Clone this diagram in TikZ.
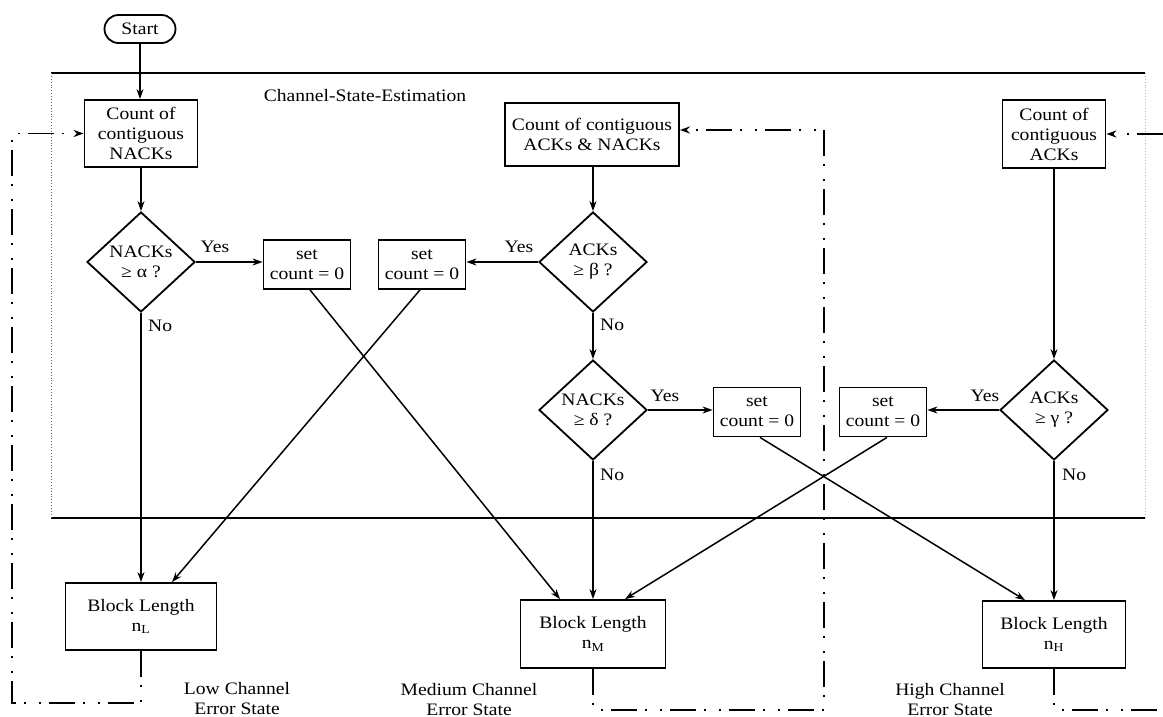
\documentclass[tikz,border=0pt]{standalone}
\usepackage{fontspec}
\setmainfont{Liberation Serif}[FakeStretch=1.12]
\usetikzlibrary{shapes.geometric,arrows.meta}
\begin{document}
\begin{tikzpicture}[x=1pt,y=-1pt,
  every node/.style={font=\fontsize{17.5}{20}\selectfont},
  box/.style={draw,line width=1.8pt,rectangle,inner sep=0pt,align=center},
  dia/.style={draw,line width=1.8pt,diamond,inner sep=0pt,align=center,minimum width=108pt,minimum height=100pt},
  setbox/.style={box,minimum width=87pt,minimum height=49pt},
  blbox/.style={box,minimum height=67pt},
  tip/.style={-{Stealth[length=10pt,width=7pt]}},
  flow/.style={line width=1.5pt,tip},
  fb/.style={line width=1.8pt,dash pattern=on 26pt off 8pt on 2pt off 13pt on 2pt off 8pt},
  lbl/.style={inner sep=0pt,align=center}]
\useasboundingbox (0,0) rectangle (1163,717);

% estimation frame
\draw[line width=1.2pt] (51,73) -- (1145,73);
\draw[line width=1.2pt] (51,518) -- (1145,518);
\draw[line width=0.9pt,dotted,black!60] (51,73) -- (51,518);
\draw[line width=0.9pt,dotted,black!30] (1145,73) -- (1145,518);
\node[lbl] (cse) at (365,96) {Channel-State-Estimation};

% nodes
\node[box,rounded corners=14pt,minimum width=71pt,minimum height=28pt] (start) at (140,29) {Start};
\node[box,minimum width=113pt,minimum height=67pt] (cn) at (141,133.5) {Count of\\contiguous\\NACKs};
\node[box,minimum width=174pt,minimum height=63pt] (can) at (592,134.5) {Count of contiguous\\ACKs \& NACKs};
\node[box,minimum width=103pt,minimum height=68pt] (ca) at (1054,134) {Count of\\contiguous\\ACKs};

\node[dia] (d1) at (141,262) {NACKs\\≥ α ?};
\node[dia] (d2) at (593,262) {ACKs\\≥ β ?};
\node[dia] (d3) at (593,410) {NACKs\\≥ δ ?};
\node[dia] (d4) at (1054,410) {ACKs\\≥ γ ?};

\node[setbox] (s1) at (307,264.5) {set\\count = 0};
\node[setbox] (s2) at (422,264.5) {set\\count = 0};
\node[setbox] (s3) at (757,412) {set\\count = 0};
\node[setbox] (s4) at (883,412) {set\\count = 0};

\node[blbox,minimum width=151pt] (bl) at (141,616.5) {Block Length\\n\textsubscript{L}};
\node[blbox,minimum width=145pt,minimum height=68pt] (bm) at (593,634) {Block Length\\n\textsubscript{M}};
\node[blbox,minimum width=143pt] (bh) at (1054,634.5) {Block Length\\n\textsubscript{H}};

% main flow
\draw[flow] (start.south) -- (start.south |- cn.north);
\draw[flow] (cn.south) -- (d1.north);
\draw[flow] (can.south -| d2.north) -- (d2.north);
\draw[flow] (d2.south) -- (d3.north);
\draw[flow] (ca.south) -- (d4.north);

\draw[flow] (d1.east) -- (s1.west |- d1.east);
\draw[flow] (d2.west) -- (s2.east |- d2.west);
\draw[flow] (d3.east) -- (s3.west |- d3.east);
\draw[flow] (d4.west) -- (s4.east |- d4.west);

\draw[flow] (d1.south) -- (d1.south |- bl.north);
\draw[flow] (d3.south) -- (bm.north);
\draw[flow] (d4.south) -- (bh.north);

\draw[flow] ([xshift=3pt]s1.south) -- ([xshift=-33pt]bm.north);
\draw[flow] ([xshift=-2pt]s2.south) -- ([xshift=31pt]bl.north);
\draw[flow] ([xshift=3pt]s3.south) -- ([xshift=-29pt]bh.north);
\draw[flow] ([xshift=4pt]s4.south) -- ([xshift=32pt]bm.north);

\node[lbl] (y1) at (215,247) {Yes};
\node[lbl] (y2) at (519,247) {Yes};
\node[lbl] (y3) at (665,396) {Yes};
\node[lbl] (y4) at (985,396) {Yes};
\node[lbl,anchor=west] (n1) at (148,326) {No};
\node[lbl,anchor=west] (n2) at (600,325) {No};
\node[lbl,anchor=west] (n3) at (600,475) {No};
\node[lbl,anchor=west] (n4) at (1062,475) {No};

% feedback loops
\coordinate (lc1) at (12,703);
\coordinate (lc2) at (12,133.5);
\draw[fb,tip] (bl.south) |- (lc1) -- (lc2) -- (cn.west);

\coordinate (mc1) at (824,710);
\coordinate (mc2) at (824,130);
\draw[fb,tip] (bm.south) |- (mc1) -- (mc2) -- (can.east |- mc2);

\coordinate (hc1) at (1163,710);
\coordinate (hc2) at (1163,134);
\draw[fb] (bh.south) |- (hc1);
\draw[fb,tip] (hc2) -- (ca.east);

% state captions
\node[lbl] (sl) at (237,698.5) {Low Channel\\Error State};
\node[lbl] (sm) at (469,699.5) {Medium Channel\\Error State};
\node[lbl] (sh) at (950,699.5) {High Channel\\Error State};
\end{tikzpicture}
\end{document}
